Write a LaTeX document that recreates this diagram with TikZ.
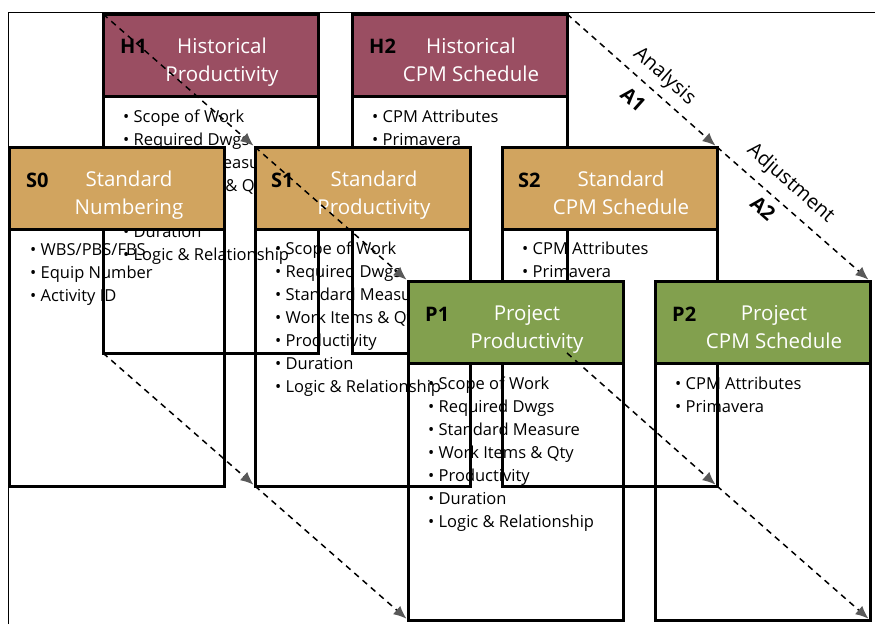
\documentclass[tikz,border=0pt]{standalone}
\usepackage{fontspec}
\setmainfont{Open Sans}
\usetikzlibrary{arrows.meta}

\definecolor{histred}{HTML}{9A4E62}
\definecolor{stdtan}{HTML}{D1A45F}
\definecolor{projgreen}{HTML}{82A04E}

\newcommand{\prodlist}{\textbullet\ Scope of Work\\ \textbullet\ Required Dwgs\\ \textbullet\ Standard Measure\\ \textbullet\ Work Items \& Qty\\ \textbullet\ Productivity\\ \textbullet\ Duration\\ \textbullet\ Logic \& Relationship}
\newcommand{\cpmlist}{\textbullet\ CPM Attributes\\ \textbullet\ Primavera}

\tikzset{
  headbox/.style={draw, line width=3pt, anchor=north west, minimum width=215pt,
    minimum height=82pt, inner sep=0pt, outer sep=0pt},
  bodybox/.style={draw, line width=3pt, anchor=north west, minimum width=215pt,
    minimum height=257pt, inner sep=0pt, outer sep=0pt},
  boxtag/.style={anchor=base west, inner sep=0pt, font=\fontsize{20}{24}\selectfont\bfseries},
  boxtitle/.style={anchor=north, align=center, inner sep=0pt, text=white,
    font=\fontsize{20.5}{28}\selectfont},
  boxitems/.style={anchor=north west, align=left, inner sep=0pt,
    font=\fontsize{16.5}{23}\selectfont},
  flow/.style={line width=1.5pt, dash pattern=on 6pt off 5pt,
    -{Latex[length=13pt,width=11pt,color=black!65]}, shorten >=2pt},
  flowtext/.style={sloped, inner sep=0pt, font=\fontsize{20}{24}\selectfont}
}

\begin{document}
\begin{tikzpicture}[x=1pt, y=-1pt]
  \useasboundingbox (0,0) rectangle (875,624);
  \draw[line width=0.8pt] (8,624) -- (8,12) -- (875,12);

  % historical row
  \node[headbox, fill=histred] (h1) at (103,14) {};
  \node[bodybox] (h1b) at (h1.south west) {};
  \node[boxtag] (h1tag) at ([shift={(17,39)}]h1.north west) {H1};
  \node[boxtitle] (h1title) at ([shift={(119,23.5)}]h1.north west) {Historical\\Productivity};
  \node[boxitems] (h1items) at ([shift={(20,14)}]h1b.north west) {\prodlist};

  \node[headbox, fill=histred] (h2) at (352,14) {};
  \node[bodybox] (h2b) at (h2.south west) {};
  \node[boxtag] (h2tag) at ([shift={(17,39)}]h2.north west) {H2};
  \node[boxtitle] (h2title) at ([shift={(119,23.5)}]h2.north west) {Historical\\CPM Schedule};
  \node[boxitems] (h2items) at ([shift={(20,14)}]h2b.north west) {\cpmlist};

  % standard row
  \node[headbox, fill=stdtan] (s0) at (9,147) {};
  \node[bodybox] (s0b) at (s0.south west) {};
  \node[boxtag] (s0tag) at ([shift={(17,40)}]s0.north west) {S0};
  \node[boxtitle] (s0title) at ([shift={(120,24)}]s0.north west) {Standard\\Numbering};
  \node[boxitems] (s0items) at ([shift={(21,14)}]s0b.north west)
    {\textbullet\ WBS/PBS/FBS\\ \textbullet\ Equip Number\\ \textbullet\ Activity ID};

  \node[headbox, fill=stdtan] (s1) at (255,147) {};
  \node[bodybox] (s1b) at (s1.south west) {};
  \node[boxtag] (s1tag) at ([shift={(16,40)}]s1.north west) {S1};
  \node[boxtitle] (s1title) at ([shift={(119,24)}]s1.north west) {Standard\\Productivity};
  \node[boxitems] (s1items) at ([shift={(20,13)}]s1b.north west) {\prodlist};

  \node[headbox, fill=stdtan] (s2) at (502,147) {};
  \node[bodybox] (s2b) at (s2.south west) {};
  \node[boxtag] (s2tag) at ([shift={(16,40)}]s2.north west) {S2};
  \node[boxtitle] (s2title) at ([shift={(119,24)}]s2.north west) {Standard\\CPM Schedule};
  \node[boxitems] (s2items) at ([shift={(20,13)}]s2b.north west) {\cpmlist};

  % project row
  \node[headbox, fill=projgreen] (p1) at (408,281) {};
  \node[bodybox] (p1b) at (p1.south west) {};
  \node[boxtag] (p1tag) at ([shift={(17,40)}]p1.north west) {P1};
  \node[boxtitle] (p1title) at ([shift={(119,24)}]p1.north west) {Project\\Productivity};
  \node[boxitems] (p1items) at ([shift={(20,14)}]p1b.north west) {\prodlist};

  \node[headbox, fill=projgreen] (p2) at (655,281) {};
  \node[bodybox] (p2b) at (p2.south west) {};
  \node[boxtag] (p2tag) at ([shift={(17,40)}]p2.north west) {P2};
  \node[boxtitle] (p2title) at ([shift={(119,24)}]p2.north west) {Project\\CPM Schedule};
  \node[boxitems] (p2items) at ([shift={(20,14)}]p2b.north west) {\cpmlist};

  % analysis and adjustment
  \draw[flow] (h1.north west) -- (s1.north west);
  \draw[flow] (s1.north west) -- (p1.north west);
  \draw[flow] (h1b.south west) -- (s1b.south west);
  \draw[flow] (s1b.south west) -- (p1b.south west);
  \draw[flow] (h2.north east) --
    node[flowtext, pos=0.57, above=7pt] (ana) {Analysis}
    node[flowtext, pos=0.53, below=12pt, font=\fontsize{20}{24}\selectfont\bfseries] (a1) {A1}
    (s2.north east);
  \draw[flow] (s2.north east) --
    node[flowtext, pos=0.39, above=10pt] (adj) {Adjustment}
    node[flowtext, pos=0.37, below=8pt, font=\fontsize{20}{24}\selectfont\bfseries] (a2) {A2}
    (p2.north east);
  \draw[flow] (h2b.south east) -- (s2b.south east);
  \draw[flow] (s2b.south east) -- (p2b.south east);
\end{tikzpicture}
\end{document}
